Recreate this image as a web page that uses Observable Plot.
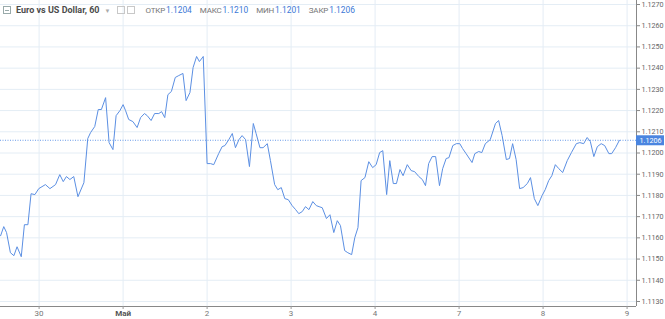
<!DOCTYPE html>
<html>
<head>
<meta charset="utf-8">
<script src="https://cdn.jsdelivr.net/npm/d3@7"></script>
<script src="https://cdn.jsdelivr.net/npm/@observablehq/plot@0.6"></script>
<style>
  html, body { margin: 0; padding: 0; background: #fff; }
  #wrap { position: relative; width: 665px; height: 319px; overflow: hidden; font-family: Roboto, "Open Sans", sans-serif; }
  #hdr { position: absolute; left: 0; top: 3px; height: 14px; display: flex; align-items: center; white-space: nowrap; }
  #hdr .box { width: 6px; height: 6px; border: 1px solid #9aa; margin: 0 5px 0 3px; position: relative; }
  #hdr .box::after { content: ""; position: absolute; left: 1px; right: 1px; top: 2.5px; height: 1px; background: #9aa; }
  #hdr .title { font-size: 9px; font-weight: bold; color: #4c4c4c; }
  #hdr .caret { font-size: 6px; color: #aaa; margin: 0 7px 0 5px; }
  #hdr .ico { width: 6px; height: 6px; border: 1px solid #c8c8c8; margin-right: 2px; }
  #hdr .lab { font-size: 8px; color: #777; margin-left: 8px; letter-spacing: -0.2px; }
  #hdr .val { font-size: 8.4px; color: #3b78d6; margin-left: 1px; }
</style>
</head>
<body>
<div id="wrap">
  <div id="chart"></div>
  <div id="hdr"></div>
</div>
<script>
// ---- data ----
const seriesName = "Euro vs US Dollar, 60";
const statLabels = ["ОТКР", "МАКС", "МИН", "ЗАКР"];
const statValues = ["1.1204", "1.1210", "1.1201", "1.1206"];
const closePrice = 1.1206;

// hour offset from 30 Apr 00:00 (trading hours, weekend removed), price
const series = [
[-11.0,1.1161],[-10.1,1.11653],[-9.3,1.11625],[-8.2,1.1153],[-7.2,1.11516],[-6.3,1.11558],[-5.1,1.11511],
[-4.2,1.11662],[-3.2,1.11662],[-2.3,1.11808],[-1.2,1.11804],[-0.1,1.11832],[1.8,1.11851],[3.1,1.11832],
[4.7,1.11851],[5.9,1.11898],[6.9,1.11865],[7.8,1.11889],[8.8,1.11875],[9.9,1.11889],[11.1,1.11794],
[12.8,1.1186],[13.9,1.12068],[14.7,1.12096],[15.9,1.12125],[16.9,1.12205],[17.8,1.12205],[19.0,1.12261],
[20.0,1.12049],[21.1,1.12016],[22.0,1.12176],[23.1,1.122],[24.0,1.12228],[24.7,1.122],[25.6,1.12158],
[26.8,1.12148],[28.0,1.1212],[29.0,1.12167],[30.1,1.12186],[30.9,1.12176],[32.0,1.12153],[33.0,1.12186],
[34.2,1.12186],[35.0,1.12195],[35.9,1.12167],[36.8,1.12275],[37.8,1.1229],[38.9,1.12356],[39.9,1.12365],
[41.1,1.12375],[42.0,1.12247],[43.1,1.12285],[44.0,1.12403],[45.0,1.12455],[45.8,1.12431],[46.9,1.12455],
[48.0,1.1195],[49.0,1.1195],[49.9,1.11945],[51.3,1.11997],[52.3,1.1203],[53.1,1.12035],[54.2,1.12063],
[55.2,1.12092],[56.1,1.12025],[57.1,1.12063],[58.0,1.12082],[59.0,1.12063],[60.1,1.11936],[61.2,1.12139],
[62.0,1.12092],[63.1,1.12025],[64.0,1.12025],[65.2,1.12044],[66.1,1.11964],[67.3,1.11851],[68.2,1.11827],
[69.2,1.11837],[70.2,1.11785],[71.2,1.1178],[72.3,1.11752],[73.3,1.11733],[74.2,1.11714],[75.2,1.11724],
[76.1,1.11747],[77.1,1.11733],[78.2,1.11771],[79.2,1.11752],[80.0,1.11747],[80.9,1.11742],[82.1,1.11691],
[83.1,1.11709],[84.2,1.11625],[85.2,1.11681],[86.1,1.11658],[87.3,1.1154],[88.2,1.1153],[89.3,1.11521],
[90.2,1.11601],[91.1,1.11648],[92.0,1.1187],[93.1,1.11884],[94.2,1.11959],[95.3,1.11931],[96.3,1.11945],
[97.3,1.12002],[98.2,1.12011],[99.3,1.11804],[100.2,1.11964],[101.2,1.11856],[102.1,1.11856],[103.1,1.11922],
[104.0,1.11893],[105.2,1.11945],[106.3,1.11917],[107.3,1.11912],[108.5,1.11889],[109.5,1.11875],[110.4,1.11846],
[111.3,1.1195],[112.3,1.11983],[113.3,1.11983],[114.4,1.11846],[115.3,1.11926],[116.3,1.11974],[117.1,1.11978],
[118.2,1.12035],[119.2,1.12044],[120.2,1.12044],[121.0,1.12021],[122.0,1.11997],[123.7,1.11955],[124.5,1.11997],
[125.6,1.12007],[126.5,1.12002],[127.5,1.12044],[128.9,1.12063],[130.4,1.12139],[131.3,1.12153],[132.3,1.12082],
[133.5,1.11969],[134.4,1.11974],[135.3,1.12044],[136.3,1.11969],[137.3,1.11832],[138.3,1.11837],[139.5,1.11856],
[140.4,1.11884],[141.5,1.11785],[142.5,1.11752],[143.7,1.11799],[144.6,1.11827],[145.6,1.1187],[146.5,1.11893],
[147.5,1.11945],[148.5,1.11926],[149.6,1.11908],[150.9,1.11964],[152.1,1.12002],[153.5,1.12044],[154.5,1.12049],
[155.6,1.12044],[156.6,1.12073],[157.5,1.12054],[158.5,1.11983],[159.5,1.1203],[160.6,1.12044],[161.6,1.12035],
[162.8,1.11997],[163.6,1.11997],[164.7,1.12025],[165.8,1.1206]
];

const xTicks = [0, 24, 48, 72, 96, 120, 144, 168];
const xTickLabels = ["30", "Май", "2", "3", "4", "7", "8", "9"];
const yTicks = [1.113, 1.114, 1.115, 1.116, 1.117, 1.118, 1.119, 1.120, 1.121, 1.122, 1.123, 1.124, 1.125, 1.126, 1.127];

// ---- header ----
const hdr = document.getElementById("hdr");
let html = `<span class="box"></span><span class="title">${seriesName}</span><span class="caret">▼</span><span class="ico"></span><span class="ico"></span>`;
statLabels.forEach((l, i) => { html += `<span class="lab">${l}</span><span class="val">${statValues[i]}</span>`; });
hdr.innerHTML = html;

// ---- chart ----
const data = series.map(([h, p]) => ({h, p}));
const xDomain = [-11.03, 170.69];
const yDomain = [1.112764, 1.127189];
const gridColor = "#e4edf5";
const lineColor = "#5b8fe3";

const chart = Plot.plot({
  width: 665,
  height: 319,
  marginLeft: 0,
  marginRight: 29,
  marginTop: 0,
  marginBottom: 13,
  style: {background: "transparent", fontFamily: "Roboto, sans-serif"},
  x: {domain: xDomain},
  y: {domain: yDomain},
  marks: [
    Plot.gridY(yTicks, {stroke: gridColor, strokeOpacity: 1}),
    Plot.gridX(xTicks, {stroke: gridColor, strokeOpacity: 1}),
    Plot.ruleY([closePrice], {stroke: "#6a9be8", strokeDasharray: "1,1.5", strokeWidth: 1}),
    Plot.line(data, {x: "h", y: "p", stroke: lineColor, strokeWidth: 1}),
    Plot.ruleY([yDomain[0]], {stroke: "#888", strokeWidth: 1}),
    Plot.ruleX([xDomain[1]], {stroke: "#888", strokeWidth: 1}),
    Plot.axisY(yTicks, {anchor: "right", tickSize: 3, tickPadding: 2, tickFormat: d3.format(".4f"),
      fontSize: 7.2, fill: "#666", stroke: "#888", label: null}),
    Plot.axisX(xTicks, {anchor: "bottom", tickSize: 3, tickPadding: 1, tickFormat: (d, i) => xTickLabels[i],
      fontSize: 8, fill: "#777", stroke: "#999", label: null}),
    Plot.ruleY([closePrice], {x1: xDomain[1], x2: xDomain[1] + 8, stroke: "#4a85e0", strokeWidth: 10}),
    Plot.text([closePrice], {y: d => d, x: xDomain[1], dx: 14, text: d => d3.format(".4f")(d),
      fill: "white", fontSize: 7.2, textAnchor: "middle"})
  ]
});
document.getElementById("chart").appendChild(chart);

// Bold the month label
d3.select(chart).selectAll("text").filter(function() { return this.textContent === "Май"; })
  .attr("font-weight", "bold").attr("fill", "#555");
</script>
</body>
</html>
